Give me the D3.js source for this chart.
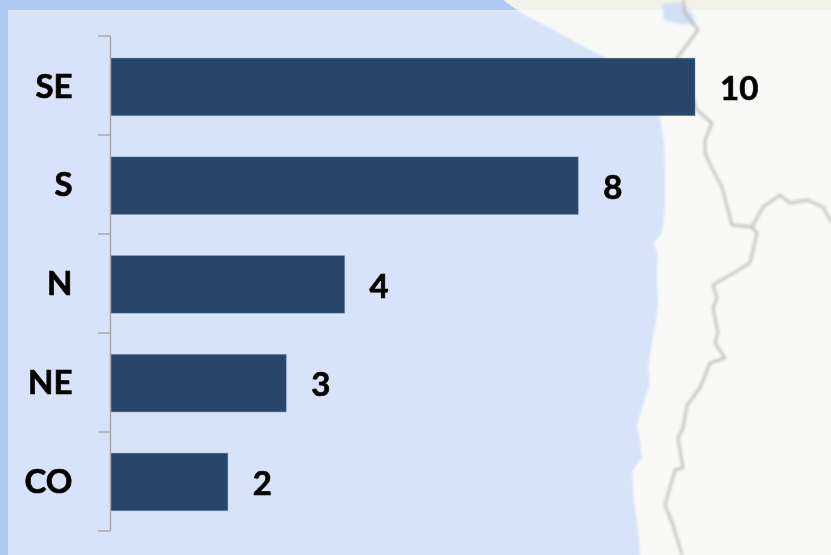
<!DOCTYPE html>
<html><head><meta charset="utf-8">
<script src="https://cdn.jsdelivr.net/npm/d3@7"></script>
<style>html,body{margin:0;padding:0;background:#f9f9f7;overflow:hidden}svg{display:block}</style>
</head><body><svg id="c" width="831" height="555"></svg>
<script>
const categories = ["SE","S","N","NE","CO"];
const values = [10,8,4,3,2];
const xMax = 10;
const coast = [[503,0],[525,15],[550,28],[575,42],[600,55],[628,72],[650,95],[660,117],[664,145],[665,173],[665,205],[662,233],[653,243],[658,253],[657,275],[658,305],[655,325],[651,348],[648,368],[650,382],[643,405],[637,425],[640,442],[642,457],[632,472],[634,500],[638,530],[640,555]];
const borderMain = [[683,0],[685,13],[698,30],[677,58],[683,72],[697,110],[712,123],[705,140],[705,153],[712,168],[722,187],[732,225],[752,227],[757,233],[750,263],[730,275],[713,285],[717,298],[713,308],[718,333],[715,343],[725,358],[710,363],[700,388],[687,405],[683,428],[678,438],[683,468],[675,470],[665,505],[673,525],[682,555]];
const borderEast = [[752,227],[763,207],[780,195],[790,203],[807,200],[823,207],[831,222]];
const lake = [[662,4],[680,3],[693,14],[695,24],[680,24],[664,20]];

const svg = d3.select("#c");
const W = 831, H = 555;
const defs = svg.append("defs");
const blur = defs.append("filter").attr("id","mapBlur").attr("x","-10%").attr("y","-10%").attr("width","120%").attr("height","120%");
blur.append("feGaussianBlur").attr("stdDeviation",1.4);
defs.append("filter").attr("id","coastBlur").append("feGaussianBlur").attr("stdDeviation",1.2);
defs.append("filter").attr("id","soft").append("feGaussianBlur").attr("stdDeviation",0.55);

const line = d3.line();
// background layers
svg.append("rect").attr("width",W).attr("height",H).attr("fill","#f9f9f7");
svg.append("rect").attr("width",W).attr("height",10).attr("fill","#f2f1ea");
svg.append("path").attr("fill","#d6e3f9").attr("filter","url(#coastBlur)")
  .attr("d",line([[-6,10],[517,10],...coast.slice(1),[640,570],[-6,570]])+"Z");
svg.append("rect").attr("width",8).attr("height",H).attr("fill","#aec9f2");
svg.append("path").attr("fill","#aec9f2").attr("d",line([[0,0],[503,0],[517,10],[0,10]])+"Z");
svg.append("path").attr("fill","#d2dff5").attr("filter","url(#mapBlur)").attr("d",line(lake)+"Z");
svg.selectAll("path.border").data([borderMain,borderEast]).join("path").attr("class","border")
  .attr("fill","none").attr("stroke","#bcbcba").attr("stroke-width",2.4).attr("stroke-linejoin","round")
  .attr("filter","url(#mapBlur)").attr("d",line);

// scales
const x = d3.scaleLinear().domain([0,xMax]).range([111,695]);
const y = d3.scaleBand().domain(categories).range([37.5,531.3]).paddingInner(0.418).paddingOuter(0.209);
const yTick = d3.scaleBand().domain(categories).range([36,531]);
const tickYs = categories.map(c => yTick(c)).concat([yTick.range()[1]]);

// bars
svg.append("g").selectAll("rect").data(values).join("rect")
  .attr("x",x(0)).attr("y",(d,i)=>y(categories[i]))
  .attr("width",d=>x(d)-x(0)).attr("height",y.bandwidth())
  .attr("fill","#28466a").attr("stroke","#5d7da3").attr("stroke-opacity",0.45).attr("stroke-width",0.8);

// axis line + ticks
const ax = svg.append("g").attr("stroke","#a6a6a6").attr("stroke-width",1.4).attr("fill","none");
ax.append("path").attr("d",`M110.5,${tickYs[0]}V${tickYs[tickYs.length-1]}`);
ax.selectAll("path.t").data(tickYs).join("path").attr("class","t").attr("d",d=>`M98,${d}H110.5`);

// labels
const font = "Lato, Carlito, sans-serif";
const txt = svg.append("g").attr("filter","url(#soft)").attr("font-family",font).attr("font-weight",700)
  .attr("font-size",33).attr("fill","#050505").attr("stroke","#050505").attr("stroke-width",0.7);
txt.selectAll("text.cat").data(categories).join("text").attr("class","cat")
  .attr("x",72.5).attr("y",d=>y(d)+y.bandwidth()/2-0.8).attr("dy","0.35em").attr("text-anchor","end").text(d=>d);
txt.selectAll("text.val").data(values).join("text").attr("class","val")
  .attr("x",d=>x(d)+25).attr("y",(d,i)=>y(categories[i])+y.bandwidth()/2+1.6).attr("dy","0.35em").text(d=>d);
</script></body></html>
